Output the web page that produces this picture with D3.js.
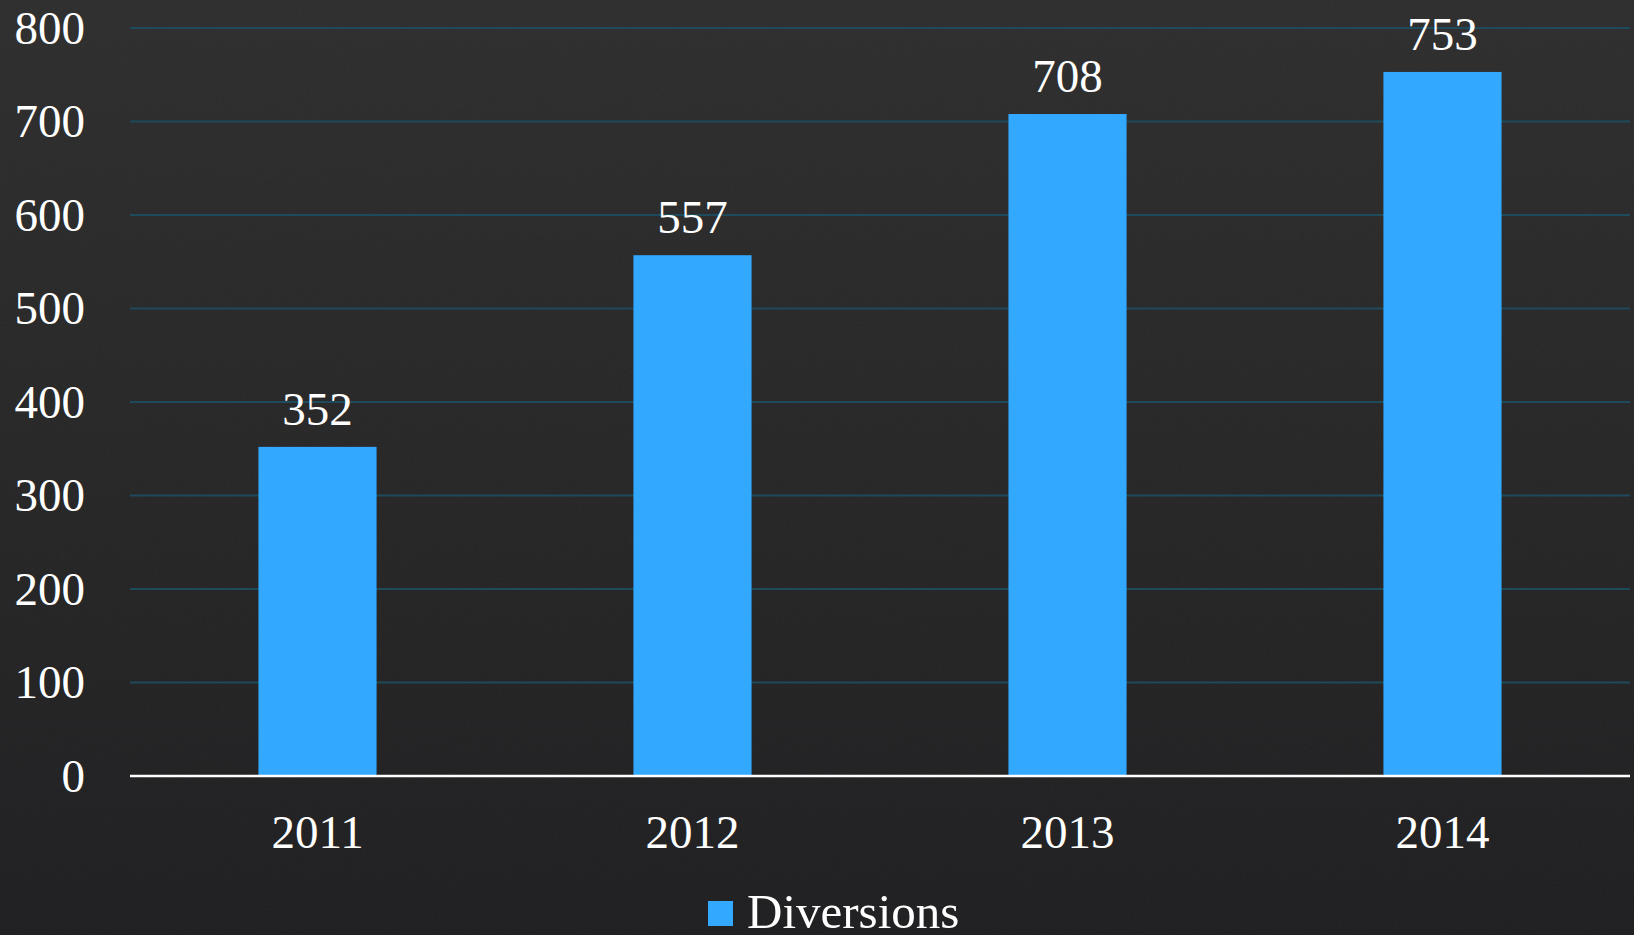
<!DOCTYPE html>
<meta charset="utf-8">
<style>
body{
	margin:0;
	background:#232323;
	overflow:hidden;
}
text{
	font-family:"Liberation Serif","DejaVu Serif",serif;
	fill:#ffffff;
}
.grid line{
	stroke:#1e4b5b;
	stroke-width:2px;
}
.axis line,.axis path{
	stroke:#ffffff;
}
</style>
<body>
<script src="https://d3js.org/d3.v7.min.js"></script>
<script>

var years=["2011","2012","2013","2014"];
var diversions=[352,557,708,753];
var yTicks=[0,100,200,300,400,500,600,700,800];
var seriesName="Diversions";

var W=1634,H=935;
var mLeft=130,mRight=1630,mTop=28,mBottom=776;

var svg=d3.select("body").append("svg").attr("width",W).attr("height",H);

var defs=svg.append("defs");
var grad=defs.append("linearGradient").attr("id","bg").attr("x1",0).attr("y1",0).attr("x2",0).attr("y2",1);
grad.append("stop").attr("offset","0%").attr("stop-color","#2c2c2c");
grad.append("stop").attr("offset","100%").attr("stop-color","#1d1d1f");
var f=defs.append("filter").attr("id","grain");
f.append("feTurbulence").attr("type","fractalNoise").attr("baseFrequency",0.9).attr("numOctaves",2).attr("result","n");
f.append("feColorMatrix").attr("type","matrix").attr("values","0 0 0 0 1  0 0 0 0 1  0 0 0 0 1  0 0 0 0.04 0");
svg.append("rect").attr("width",W).attr("height",H).attr("fill","url(#bg)");
svg.append("rect").attr("width",W).attr("height",H).attr("filter","url(#grain)");

var x=d3.scaleBand().domain(years).range([mLeft,mRight]).paddingInner(0.685).paddingOuter(0.3425);
var y=d3.scaleLinear().domain([0,800]).range([mBottom,mTop]);

// gridlines
svg.append("g").attr("class","grid")
	.selectAll("line").data(yTicks.filter(d=>d>0)).join("line")
	.attr("x1",mLeft).attr("x2",mRight)
	.attr("y1",d=>y(d)).attr("y2",d=>y(d));

// y labels
svg.append("g").selectAll("text").data(yTicks).join("text")
	.attr("x",85).attr("y",d=>y(d)).attr("dy","0.34em")
	.attr("text-anchor","end").style("font-size","47px")
	.text(d=>d);

// bars
svg.append("g").selectAll("rect").data(diversions).join("rect")
	.attr("x",(d,i)=>x(years[i])).attr("width",x.bandwidth())
	.attr("y",d=>y(d)).attr("height",d=>y(0)-y(d))
	.attr("fill","#33a8ff");

// value labels
svg.append("g").selectAll("text").data(diversions).join("text")
	.attr("x",(d,i)=>x(years[i])+x.bandwidth()/2).attr("y",d=>y(d)-22)
	.attr("text-anchor","middle").style("font-size","47px")
	.text(d=>d);

// x axis
var xa=svg.append("g").attr("class","axis").attr("transform","translate(0,"+mBottom+")")
	.call(d3.axisBottom(x).tickSize(0).tickPadding(20));
xa.select(".domain").attr("d","M"+mLeft+",0H"+mRight).style("stroke-width","2.5px");
xa.selectAll("text").style("font-size","47px").attr("dy","0.71em").attr("y",39).attr("fill","#fff");

// legend
var lg=svg.append("g").attr("transform","translate(708,901)");
lg.append("rect").attr("width",25).attr("height",25).attr("fill","#33a8ff");
lg.append("text").attr("x",39).attr("y",27).style("font-size","49px").text(seriesName);

</script>
</body>
</html>
